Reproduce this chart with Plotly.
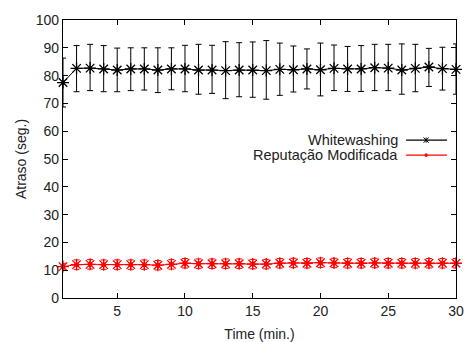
import plotly.graph_objects as go

time_min = list(range(1, 31))

whitewashing = [77.5, 82.6, 82.7, 82.4, 82.0, 82.4, 82.4, 82.0, 82.4, 82.4,
                82.0, 82.0, 81.8, 82.0, 82.0, 81.8, 82.25, 82.1, 82.4, 82.1,
                82.6, 82.4, 82.4, 82.85, 82.7, 82.0, 82.6, 83.1, 82.5, 82.25]
whitewashing_hi = [86.3, 90.8, 91.25, 90.8, 89.9, 90.0, 90.0, 90.0, 90.0, 90.9,
                   91.25, 90.9, 92.2, 91.85, 92.1, 92.6, 91.7, 90.65, 89.6, 91.7,
                   91.0, 90.5, 90.8, 91.25, 91.25, 91.4, 91.25, 89.8, 90.2, 91.4]
whitewashing_lo = [68.7, 74.2, 74.6, 74.2, 74.2, 74.6, 74.8, 73.9, 74.9, 74.2,
                   73.3, 73.6, 71.7, 72.4, 72.2, 71.5, 72.9, 74.1, 75.2, 72.7,
                   74.6, 74.3, 74.3, 74.6, 74.6, 73.3, 74.2, 76.1, 74.8, 73.3]

reputacao = [11.3, 12.0, 12.1, 12.0, 12.0, 12.0, 12.0, 11.8, 12.1, 12.5,
             12.35, 12.35, 12.35, 12.35, 12.2, 12.2, 12.5, 12.6, 12.5, 12.7,
             12.6, 12.5, 12.5, 12.6, 12.5, 12.5, 12.5, 12.5, 12.5, 12.5]
reputacao_err = [1.2] + [1.7] * 29

x_ticks = [5, 10, 15, 20, 25, 30]
y_ticks = list(range(0, 101, 10))

ww_plus = [h - v for h, v in zip(whitewashing_hi, whitewashing)]
ww_minus = [v - l for v, l in zip(whitewashing, whitewashing_lo)]

fig = go.Figure()

fig.add_trace(go.Scatter(
    x=time_min, y=whitewashing, mode="lines+markers", name="Whitewashing",
    line=dict(color="black", width=1),
    marker=dict(symbol="asterisk-open", size=10, color="black",
                line=dict(color="black", width=1.3)),
    error_y=dict(type="data", symmetric=False, array=ww_plus, arrayminus=ww_minus,
                 color="black", thickness=1, width=3),
    cliponaxis=False, showlegend=False))

fig.add_trace(go.Scatter(
    x=time_min, y=reputacao, mode="markers",
    marker=dict(symbol="asterisk-open", size=10, color="red",
                line=dict(color="red", width=1.3)),
    cliponaxis=False, showlegend=False, hoverinfo="skip"))

fig.add_trace(go.Scatter(
    x=time_min, y=reputacao, mode="lines+markers", name="Reputação Modificada",
    line=dict(color="red", width=1),
    marker=dict(symbol="circle", size=5, color="red"),
    error_y=dict(type="data", array=reputacao_err, color="red", thickness=1, width=3),
    cliponaxis=False, showlegend=False))

fam = "Liberation Sans, Arial, sans-serif"
font = dict(family=fam, size=14, color="#222")

# legend (gnuplot style: text right-aligned, sample on the right)
legend_items = [("Whitewashing", "black", 0.568), ("Reputação Modificada", "red", 0.514)]
shapes = []
annotations = []
for label, col, yp in legend_items:
    annotations.append(dict(text=label, xref="paper", yref="paper", x=0.858, y=yp,
                            xanchor="right", yanchor="middle", showarrow=False,
                            font=dict(family=fam, size=14.5, color="#222")))
    shapes.append(dict(type="line", xref="paper", yref="paper", x0=0.873, x1=0.977,
                       y0=yp, y1=yp, line=dict(color=col, width=1.2)))
# legend markers
cx, cy = 0.924, 0.568
dx, dy = 0.0065, 0.0095
shapes.append(dict(type="line", xref="paper", yref="paper", x0=cx, x1=cx,
                   y0=cy - dy, y1=cy + dy, line=dict(color="black", width=1)))
shapes.append(dict(type="line", xref="paper", yref="paper", x0=cx - dx, x1=cx + dx,
                   y0=cy - dy, y1=cy + dy, line=dict(color="black", width=1)))
shapes.append(dict(type="line", xref="paper", yref="paper", x0=cx - dx, x1=cx + dx,
                   y0=cy + dy, y1=cy - dy, line=dict(color="black", width=1)))
shapes.append(dict(type="circle", xref="paper", yref="paper", x0=0.920, x1=0.928,
                   y0=0.507, y1=0.521, fillcolor="red", line=dict(color="red", width=0)))

fig.update_layout(
    width=467, height=342,
    margin=dict(l=63, r=11, t=20, b=44),
    paper_bgcolor="white", plot_bgcolor="white",
    font=font,
    shapes=shapes, annotations=annotations,
    xaxis=dict(range=[1, 30], tickvals=x_ticks, ticks="inside", ticklen=5,
               showgrid=False, zeroline=False, showline=True, mirror="ticks",
               linecolor="black", linewidth=1.2, tickcolor="black",
               automargin=False,
               title=dict(text="Time (min.)", standoff=11,
                          font=dict(family=fam, size=14)),
               tickfont=dict(size=14)),
    yaxis=dict(range=[0, 100], tickvals=y_ticks, ticks="inside", ticklen=5,
               showgrid=False, zeroline=False, showline=True, mirror="ticks",
               linecolor="black", linewidth=1.2, tickcolor="black",
               automargin=False,
               title=dict(text="Atraso (seg.)", standoff=5,
                          font=dict(family=fam, size=14)),
               tickfont=dict(size=14)),
)

fig.write_html("out.html")
